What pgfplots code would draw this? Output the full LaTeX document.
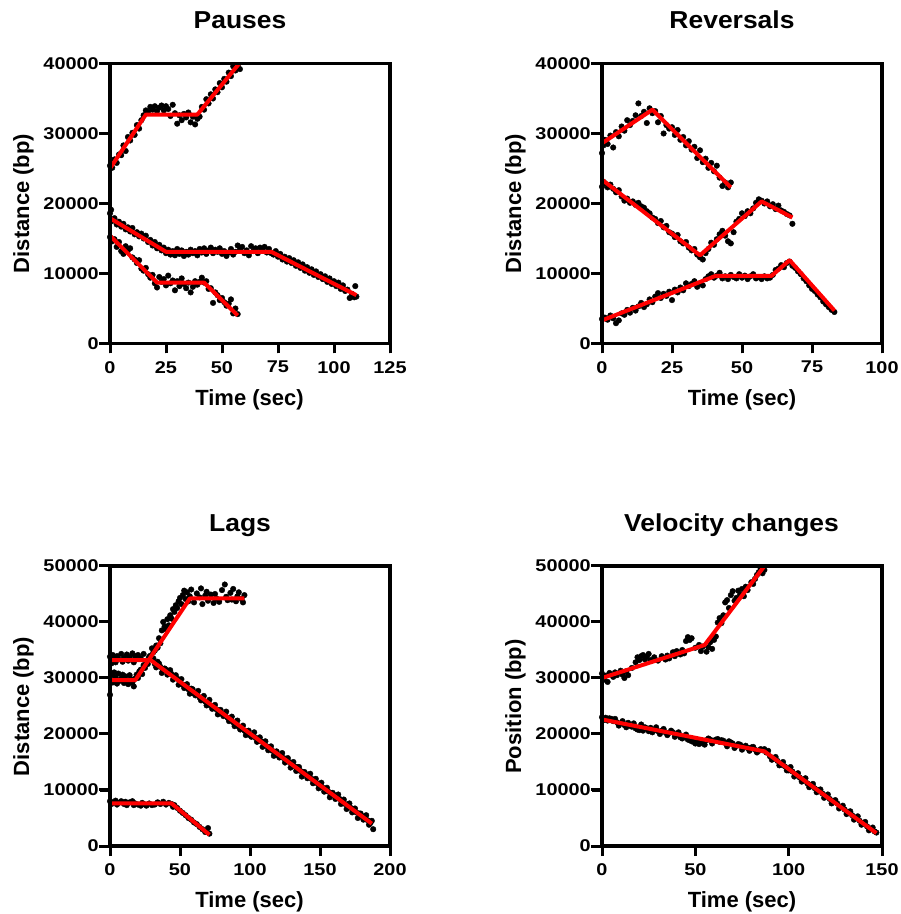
\documentclass[border=0pt]{standalone}
\usepackage{fontspec}
\setmainfont{Liberation Sans}
\newfontfamily\tickfont{Liberation Sans}[FakeStretch=1.17]
\newfontfamily\titlefont{Liberation Sans}[FakeStretch=1.08]
\usepackage{pgfplots}
\pgfplotsset{compat=1.18}

\pgfplotsset{
  panel/.style={
    scale only axis, width=280pt, height=280pt, anchor=south west,
    axis line style={line width=3.5pt},
    tick style={line width=3pt, black},
    major tick length=10pt, tick align=outside,
    tick pos=left,
    scaled ticks=false,
    /pgf/number format/assume math mode=true,
    /pgf/number format/1000 sep={},
    ticklabel style={font=\tickfont\bfseries\fontsize{17}{18}\selectfont, inner sep=0pt},
    xticklabel style={anchor=north, yshift=-7.5pt},
    yticklabel style={anchor=east, xshift=-1pt},
    clip=false, clip marker paths=true,
  },
  mydots/.style={only marks, mark=*, mark size=2.8pt, black},
  myfit/.style={color=red, line width=4pt, line join=round, mark=none},
  myframe/.style={forget plot, color=black, line width=3.5pt, line cap=rect, line join=miter, mark=none},
}
\tikzset{
  ttl/.style={font=\titlefont\bfseries\fontsize{24.5}{26}\selectfont, anchor=base, inner sep=0pt},
  lbl/.style={font=\bfseries\fontsize{22}{24}\selectfont, anchor=base, inner sep=0pt},
  rl/.style={inner sep=0pt, outer sep=0pt},
}
% box and ticks made of TeX rules; #1,#2 = lower left corner of a 280pt panel
\newcommand\panelbox[2]{%
  \node[rl] at (#1pt+140pt,#2pt) {\rule{283.5pt}{3.5pt}};
  \node[rl] at (#1pt+140pt,#2pt+280pt) {\rule{283.5pt}{3.5pt}};
  \node[rl] at (#1pt,#2pt+140pt) {\rule{3.5pt}{283.5pt}};
  \node[rl] at (#1pt+280pt,#2pt+140pt) {\rule{3.5pt}{283.5pt}};}
\newcommand\xtk[2]{\node[rl, anchor=north] at (#1pt,#2pt) {\rule{3pt}{10pt}};}
\newcommand\ytk[2]{\node[rl, anchor=east] at (#1pt,#2pt) {\rule{11pt}{3pt}};}

\begin{document}
\begin{tikzpicture}
\path[use as bounding box] (0pt,0pt) rectangle (901pt,914pt);

% Pauses
\begin{axis}[panel, at={(110pt,570.5pt)}, xmin=0, xmax=125, ymin=0, ymax=40000,
  xtick={0,25,50,75,100,125}, ytick={0,10000,20000,30000,40000}]
\addplot[mydots] coordinates {(0,25400)(1,25100)(2,26300)(3,25800)(4,27000)(5,26900)(6,28300)(7,27500)(8,29500)(9,29000)(10,30100)(11,29800)(12,31200)(13,30700)(14,31900)(15,32600)(16,33300)(17,33100)(18,33800)(19,33400)(20,33900)(21,33200)(22,33700)(23,34000)(24,33300)(25,33900)(26,33500)(27,32500)(28,34100)(29,32900)(30,31400)(31,32600)(32,31900)(33,32800)(34,32300)(35,33000)(36,31600)(37,32400)(38,31300)(39,32100)(40,32400)(41,33800)(42,33400)(43,34900)(44,34300)(45,35600)(46,35000)(47,36300)(48,35900)(49,37200)(50,36600)(51,37800)(52,37400)(53,38700)(54,38200)(55,39600)(56,39000)(57,39700)(58,39200)};
\addplot[mydots] coordinates {(0,18600)(0.5,19100)(1,17500)(2,17900)(3,17000)(4,17400)(5,16700)(6,17100)(7,16300)(8,16600)(9,16000)(10,16500)(11,15600)(12,15900)(13,15300)(14,15700)(15,15000)(16,15400)(17,14500)(18,14800)(19,14000)(20,14500)(21,13600)(22,14100)(23,13300)(24,13700)(25,12900)(26,13400)(27,12700)(28,13200)(29,12600)(30,13500)(31,12800)(32,13300)(33,12500)(34,13100)(35,12700)(36,13400)(37,12900)(38,13200)(39,12600)(40,13500)(41,13000)(42,13600)(43,12800)(44,13300)(45,13700)(46,12900)(47,13400)(48,13100)(49,13600)(50,12800)(51,13200)(52,12500)(53,13000)(54,13500)(55,12700)(56,13100)(57,14000)(58,13400)(59,13800)(60,12900)(61,13300)(62,12600)(63,13900)(64,13200)(65,13600)(66,12900)(67,13700)(68,13300)(69,13800)(70,13000)(71,13500)(72,12900)(73,12700)(74,13200)(75,12400)(76,12800)(77,12000)(78,12400)(79,11700)(80,12200)(81,11500)(82,11900)(83,11100)(84,11600)(85,10800)(86,11300)(87,10400)(88,10900)(89,10100)(90,10600)(91,9800)(92,10300)(93,9500)(94,9900)(95,9200)(96,9600)(97,8800)(98,9300)(99,8500)(100,8900)(101,8200)(102,8700)(103,7800)(104,8300)(105,7500)(106,7700)(107,6500)(108,7100)(109,6600)(109.5,8200)(110,6700)};
\addplot[mydots] coordinates {(0,15200)(1,14600)(2,14900)(3,13800)(4,14500)(5,13200)(6,12800)(7,13900)(8,13300)(9,13600)(10,12300)(11,12000)(12,11500)(13,11900)(14,10700)(15,10400)(16,10800)(17,9900)(18,9400)(19,9800)(20,8600)(21,8000)(22,9500)(23,8800)(24,9200)(25,8300)(26,9700)(27,8600)(28,9000)(29,7600)(30,8900)(31,8200)(32,9300)(33,8500)(34,7900)(35,8700)(36,7300)(37,8100)(38,8900)(39,8400)(40,8800)(41,9400)(42,8700)(43,8900)(44,7800)(45,7900)(46,5800)(47,7300)(48,6900)(49,6200)(50,6500)(51,5900)(52,5400)(53,5700)(54,6300)(55,4300)(56,5000)(57,4200)};
\addplot[myfit] coordinates {(0,25000)(16,32700)(39,32700)(57.7,40000)};
\addplot[myfit] coordinates {(0,17900)(25,13100)(72,13100)(110,6900)};
\addplot[myfit] coordinates {(0,15400)(21,8700)(42,8700)(57,4000)};
\addplot[myframe] coordinates {(0,0)(125,0)(125,40000)(0,40000)(0,0)};
\end{axis}

% Reversals
\begin{axis}[panel, at={(602pt,570.5pt)}, xmin=0, xmax=100, ymin=0, ymax=40000,
  xtick={0,25,50,75,100}, ytick={0,10000,20000,30000,40000}]
\addplot[mydots] coordinates {(0,27200)(0.5,28300)(1,29100)(2,28500)(3,29700)(4,28000)(5,30200)(6,29600)(7,31000)(8,30400)(9,31900)(10,31200)(11,31800)(12,32600)(13,34300)(14,32500)(15,33100)(16,31500)(17,33600)(18,32900)(19,33200)(20,31600)(21,32500)(22,30000)(23,31200)(24,30700)(25,30900)(26,29800)(27,30500)(28,29100)(29,29500)(30,28300)(31,28900)(32,27700)(33,28100)(34,26500)(35,27600)(36,25900)(37,26400)(38,25100)(39,25800)(40,24600)(41,25400)(42,23700)(43,22500)(44,23000)(45,22300)(46,23000)};
\addplot[mydots] coordinates {(0,22400)(0.5,23100)(1,22900)(2,22300)(3,22700)(4,22100)(5,21600)(6,21900)(7,21000)(8,20400)(9,20700)(10,20100)(11,20300)(12,19800)(13,20100)(14,19600)(15,19400)(16,18900)(17,18600)(18,18000)(19,17800)(20,17200)(21,17500)(22,16600)(23,16800)(24,15900)(25,15700)(26,15200)(27,15500)(28,14600)(29,14300)(30,14500)(31,13700)(32,13300)(33,13500)(34,12700)(35,12300)(36,12000)(37,12900)(38,13500)(39,14400)(40,14100)(41,14900)(42,15600)(43,16100)(44,15400)(45,14600)(46,14300)(47,15900)(48,17400)(49,17800)(50,18600)(51,18200)(52,18900)(53,18600)(54,19300)(55,20100)(56,20600)(57,20400)(58,20000)(59,20300)(60,19600)(61,19900)(62,19200)(63,19700)(64,19000)(65,18800)(66,18500)(67,18300)(68,17100)};
\addplot[mydots] coordinates {(0,3500)(1,3700)(2,3400)(3,4000)(4,3600)(5,2900)(6,3300)(7,4300)(8,4100)(9,4800)(10,4400)(11,5100)(12,4700)(13,5300)(14,5800)(15,5200)(16,5600)(17,6300)(18,5900)(19,6700)(20,7200)(21,6500)(22,7100)(23,6800)(24,7400)(25,6200)(26,7700)(27,7300)(28,8000)(29,7600)(30,8600)(31,8200)(32,8500)(33,8900)(34,8100)(35,8600)(36,8300)(37,9200)(38,9600)(39,9900)(40,9400)(41,9700)(42,10100)(43,9300)(44,9600)(45,9200)(46,9800)(47,9500)(48,9300)(49,9900)(50,9400)(51,9700)(52,9200)(53,9600)(54,9900)(55,9300)(56,9500)(57,9200)(58,9600)(59,9300)(60,9400)(61,9800)(62,10500)(63,10700)(64,11200)(65,10900)(66,11500)(67,11700)(68,11100)(69,10800)(70,10300)(71,9900)(72,9300)(73,8900)(74,8300)(75,7800)(76,7500)(77,7000)(78,6600)(79,6000)(80,5600)(81,5200)(82,4800)(83,4500)};
\addplot[myfit] coordinates {(0,28600)(18,33400)(46,22300)};
\addplot[myfit] coordinates {(0,23400)(35,12600)(57,20300)(68,18000)};
\addplot[myfit] coordinates {(0,3300)(40.5,9650)(60.5,9650)(67,11900)(83,4700)};
\addplot[myframe] coordinates {(0,0)(100,0)(100,40000)(0,40000)(0,0)};
\end{axis}

% Lags
\begin{axis}[panel, at={(110pt,68pt)}, xmin=0, xmax=200, ymin=0, ymax=50000,
  xtick={0,50,100,150,200}, ytick={0,10000,20000,30000,40000,50000}]
\addplot[mydots] coordinates {(0,27000)(1,30500)(2,29200)(3,31000)(4,30100)(5,29000)(6,30800)(7,29500)(8,29900)(9,30600)(10,29100)(11,30300)(12,29400)(13,28900)(14,30500)(15,29800)(16,29200)(17,28500)(18,29900)(19,30600)(20,30000)(21,31200)(22,31500)(23,30700)(24,32300)(25,31800)(26,33100)(27,32500)(28,33600)(29,34000)(30,35300)(31,34600)(32,34900)(33,35800)(34,35400)(35,37100)(36,36200)(37,38500)(38,40000)(39,39200)(40,38700)(41,40500)(42,39400)(43,41200)(44,40600)(45,42300)(46,41800)(47,43000)(48,42500)(49,43700)(50,44300)(51,43200)(52,44800)(53,45600)(54,44100)(55,45300)(56,43700)(57,44600)(58,45800)(60,43500)(62,45100)(64,44400)(65,46000)(66,43200)(68,44700)(69,45400)(70,43800)(72,44900)(74,43400)(75,45000)(76,44200)(78,43600)(80,45700)(82,46700)(83,44500)(84,43900)(86,45200)(87,44000)(88,45900)(90,43700)(91,44600)(92,45300)(94,44100)(95,43500)(96,44800)};
\addplot[mydots] coordinates {(0,33800)(1,32600)(2,34100)(3,33300)(4,32800)(5,33900)(6,33400)(8,34300)(9,32900)(10,33600)(12,34200)(13,33100)(14,33700)(16,34400)(17,32800)(18,33900)(20,34100)(22,33500)(24,34300)(26,33100)(28,33800)(30,33600)(32,32500)(34,32900)(36,32000)(38,31400)(40,31500)(42,30800)(44,30700)(46,30200)(48,29900)(50,29500)(52,28800)(54,28700)(56,28000)(58,28100)(60,27200)(62,27300)(64,26500)(66,26400)(68,25800)(70,25800)(72,25100)(74,25000)(76,24400)(78,24200)(80,23600)(82,23500)(84,22900)(86,22700)(88,22100)(90,22000)(92,21300)(94,21200)(96,20600)(98,20500)(100,19800)(102,19700)(104,19300)(106,18800)(108,18700)(110,18000)(112,17800)(114,17400)(116,17000)(118,16800)(120,16200)(122,16000)(124,15700)(126,15200)(128,15000)(130,14600)(132,14200)(134,14100)(136,13400)(138,13200)(140,12700)(142,12500)(144,12000)(146,11700)(148,11200)(150,11000)(152,10400)(154,10200)(156,9700)(158,9400)(160,9100)(162,8600)(164,8400)(166,7900)(168,7500)(170,7200)(172,6800)(174,6600)(176,6000)(178,5800)(180,5300)(182,5000)(184,4600)(186,4100)(188,3000)};
\addplot[mydots] coordinates {(31,33500)(33,31900)(35,32600)(37,30900)(39,31700)(41,30600)(43,31400)(45,29700)(47,30500)(49,28800)(51,29800)(53,28200)(55,28900)(57,27200)(59,28000)(61,26900)(63,27700)(65,26000)(67,26800)(69,25100)(71,26100)(73,24500)(75,25200)(77,23500)(79,24300)(81,23200)(83,24000)(85,22300)(87,23100)(89,21400)(91,22400)(93,20800)(95,21500)(97,19800)(99,20600)(101,19500)(103,20300)(105,18600)(107,19400)(109,17700)(111,18700)(113,17100)(115,17800)(117,16100)(119,16900)(121,15800)(123,16600)(125,14900)(127,15700)(129,14000)(131,15000)(133,13400)(135,14100)(137,12400)(139,13200)(141,12100)(143,12900)(145,11200)(147,12000)(149,10300)(151,11300)(153,9700)(155,10400)(157,8700)(159,9500)(161,8400)(163,9200)(165,7500)(167,8300)(169,6600)(171,7600)(173,6000)(175,6700)(177,5000)(179,5800)(181,4700)(183,5500)(185,3800)(187,4500)};
\addplot[mydots] coordinates {(0,8000)(1,7500)(2,7800)(4,8100)(5,7400)(6,7700)(8,8000)(10,7500)(11,7900)(12,7300)(14,7800)(16,8000)(17,7300)(18,7600)(20,7400)(22,7200)(23,7700)(24,7500)(26,7200)(28,7600)(30,7300)(32,7400)(34,7800)(36,7500)(38,7900)(40,7400)(42,7700)(44,7500)(45,7000)(46,7300)(48,6800)(50,6300)(52,5900)(54,5500)(56,5000)(58,4700)(60,4200)(62,3900)(64,3400)(66,3000)(68,2500)(70,3200)(71,2200)};
\addplot[myfit] coordinates {(0,29600)(18,29600)(57,44200)(96,44200)};
\addplot[myfit] coordinates {(0,33200)(29,33200)(187,4000)};
\addplot[myfit] coordinates {(0,7600)(44,7600)(71,2000)};
\addplot[myframe] coordinates {(0,0)(200,0)(200,50000)(0,50000)(0,0)};
\end{axis}

% Velocity changes
\begin{axis}[panel, at={(602pt,68pt)}, xmin=0, xmax=150, ymin=0, ymax=50000,
  xtick={0,50,100,150}, ytick={0,10000,20000,30000,40000,50000}]
\addplot[mydots] coordinates {(0,30800)(1,29700)(2,30400)(3,29300)(4,30900)(6,30200)(7,31000)(8,30500)(10,31300)(11,30600)(12,30000)(13,31200)(14,30500)(16,31800)(18,32800)(19,33700)(20,33200)(21,33900)(22,34100)(23,33300)(24,33800)(25,34300)(26,33200)(28,33700)(30,33100)(32,33900)(34,33300)(35,34000)(36,33500)(38,34600)(39,33900)(40,34800)(42,34200)(43,35000)(44,34400)(45,36600)(46,37300)(47,36800)(48,37100)(50,35400)(52,35900)(53,34800)(54,35600)(56,34700)(57,35500)(58,36400)(59,35200)(60,36800)(61,37400)(62,39900)(63,40700)(64,39800)(65,41200)(66,43500)(67,43900)(68,42500)(69,44800)(70,45500)(71,43800)(72,44300)(73,45600)(74,44900)(75,45900)(76,44600)(77,46300)(78,45700)(80,47100)(81,46800)(82,47700)(83,48400)(84,48900)(85,49600)(86,48700)(87,49300)};
\addplot[mydots] coordinates {(0,23000)(1,22500)(2,22900)(3,22400)(4,22800)(6,22300)(7,22700)(8,22100)(10,21900)(12,21600)(14,22000)(15,21500)(16,21300)(18,21000)(20,20700)(22,20600)(23,21200)(24,21000)(25,20500)(26,21100)(28,20700)(30,20500)(32,20600)(34,20300)(36,20200)(38,20300)(40,19900)(42,19400)(44,19500)(46,19000)(48,18700)(50,18300)(51,18700)(52,18200)(54,18500)(55,18100)(56,18900)(58,19000)(60,18800)(62,19100)(63,18600)(64,18900)(66,18400)(68,18700)(70,18300)(72,17900)(74,18100)(76,17700)(78,17500)(80,17600)(82,17200)(84,17000)(85,17300)(86,17100)(88,16700)(90,16000)(92,15600)(94,15200)(96,14500)(98,14200)(100,13500)(102,13300)(104,12700)(106,12200)(108,11800)(110,11200)(112,10900)(114,10300)(116,10000)(118,9400)(120,9000)(122,8400)(124,8000)(126,7600)(128,7000)(130,6500)(132,6100)(134,5500)(136,5000)(138,4500)(140,4100)(142,3500)(144,3000)(146,2600)(147,2400)};
\addplot[mydots] coordinates {(5,22700)(9,21500)(11,22300)(13,21200)(17,21900)(19,20800)(21,21700)(27,20300)(29,21200)(31,20000)(33,20900)(35,19800)(37,20600)(39,19500)(41,20300)(43,19200)(45,19900)(47,18900)(49,18600)(53,18400)(57,19200)(59,18300)(61,19000)(65,18800)(67,17800)(69,18500)(71,17500)(73,18200)(75,17200)(77,17900)(79,17000)(81,17700)(83,16700)(87,17300)(89,17000)(91,15400)(93,15900)(95,14400)(97,15000)(99,13500)(101,14100)(103,12400)(105,13000)(107,11500)(109,12100)(111,10500)(113,11100)(115,9600)(117,10100)(119,8600)(121,9200)(123,7600)(125,8200)(127,6700)(129,7200)(131,5700)(133,6200)(135,4700)(137,5300)(139,3800)(141,4300)(143,2800)(145,3300)};
\addplot[myfit] coordinates {(0,30000)(55,35900)(87,50000)};
\addplot[myfit] coordinates {(0,22600)(87,16900)(147,2300)};
\addplot[myframe] coordinates {(0,0)(150,0)(150,50000)(0,50000)(0,0)};
\end{axis}

% frames and ticks
\panelbox{110}{570.5}
\panelbox{602}{570.5}
\panelbox{110}{68}
\panelbox{602}{68}
\xtk{110}{570.5}\xtk{166}{570.5}\xtk{222}{570.5}\xtk{278}{570.5}\xtk{334}{570.5}\xtk{390}{570.5}
\xtk{602}{570.5}\xtk{672}{570.5}\xtk{742}{570.5}\xtk{812}{570.5}\xtk{882}{570.5}
\xtk{110}{68}\xtk{180}{68}\xtk{250}{68}\xtk{320}{68}\xtk{390}{68}
\xtk{602}{68}\xtk{695.33}{68}\xtk{788.67}{68}\xtk{882}{68}
\ytk{110}{570.5}\ytk{110}{640.5}\ytk{110}{710.5}\ytk{110}{780.5}\ytk{110}{850.5}
\ytk{602}{570.5}\ytk{602}{640.5}\ytk{602}{710.5}\ytk{602}{780.5}\ytk{602}{850.5}
\ytk{110}{68}\ytk{110}{124}\ytk{110}{180}\ytk{110}{236}\ytk{110}{292}\ytk{110}{348}
\ytk{602}{68}\ytk{602}{124}\ytk{602}{180}\ytk{602}{236}\ytk{602}{292}\ytk{602}{348}

\node[ttl] at (240pt,885pt) {Pauses};
\node[ttl] at (732pt,885pt) {Reversals};
\node[ttl] at (240pt,382.5pt) {Lags};
\node[ttl] at (731.5pt,382.5pt) {Velocity changes};

\node[lbl] at (249.5pt,508.5pt) {Time (sec)};
\node[lbl] at (742pt,508.5pt) {Time (sec)};
\node[lbl] at (249.5pt,6pt) {Time (sec)};
\node[lbl] at (742pt,6pt) {Time (sec)};

\node[lbl, rotate=90] at (29pt,710.5pt) {Distance (bp)};
\node[lbl, rotate=90] at (521pt,710.5pt) {Distance (bp)};
\node[lbl, rotate=90] at (29pt,207.5pt) {Distance (bp)};
\node[lbl, rotate=90] at (521pt,207.5pt) {Position (bp)};
\end{tikzpicture}
\end{document}
